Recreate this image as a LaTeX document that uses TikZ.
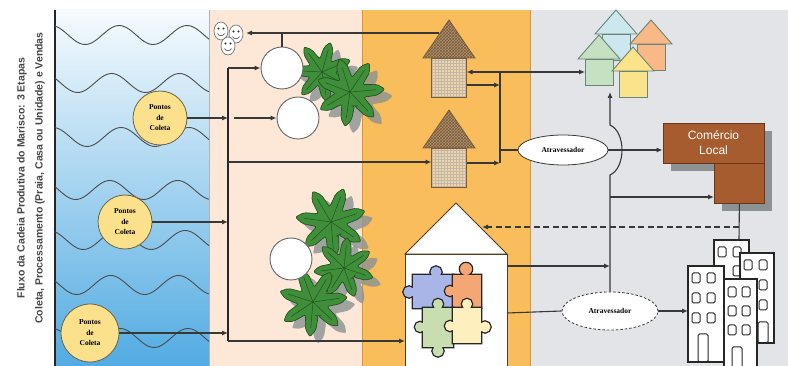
\documentclass[tikz,border=0pt]{standalone}
\usepackage{fontspec}
\setmainfont{Liberation Serif}
\setsansfont{Liberation Sans}
\usetikzlibrary{arrows.meta,shapes.geometric,patterns}

\definecolor{agua}{HTML}{52ABE2}
\definecolor{pessego}{HTML}{FDE8D8}
\definecolor{areia}{HTML}{FABD5B}
\definecolor{areiaborda}{HTML}{D9982F}
\definecolor{nevoa}{HTML}{E2E4E7}
\definecolor{fio}{HTML}{383838}
\definecolor{pontofill}{HTML}{FBE18C}
\definecolor{pontoborda}{HTML}{6B6248}
\definecolor{folha}{HTML}{3F8F3A}
\definecolor{folhaborda}{HTML}{24521F}
\definecolor{palhateto}{HTML}{B2936F}
\definecolor{palhaparede}{HTML}{EED5AC}
\definecolor{palhafio}{HTML}{7A5C3C}
\definecolor{tijolo}{HTML}{A65C2E}
\definecolor{tijoloborda}{HTML}{6B3618}
\definecolor{sombra}{HTML}{8C9294}
\definecolor{casaazul}{HTML}{CDE7EE}
\definecolor{casalaranja}{HTML}{F8B888}
\definecolor{casaverde}{HTML}{C6E0C2}
\definecolor{casaamarela}{HTML}{FBE38C}
\definecolor{casaborda}{HTML}{6A8576}
\definecolor{pecaazul}{HTML}{A9B5E6}
\definecolor{pecalaranja}{HTML}{F4A674}
\definecolor{pecaverde}{HTML}{C9DEB0}
\definecolor{pecaamarela}{HTML}{FDF0BE}

% palm crown of seven broad leaves: x, y, radius, turn, style
\newcommand{\palmstar}[5]{%
  \path[#5, shift={(#1,#2)}, rotate=#4, rounded corners=2pt]
    (64.3:0.42*#3) \foreach \k in {1,...,7}
      {-- (79+\k*51.43-51.43:0.8*#3) -- (90+\k*51.43-51.43:#3) -- (101+\k*51.43-51.43:0.8*#3) -- (64.3+\k*51.43:0.42*#3)} -- cycle;
}
% little face: x, y
\newcommand{\drawface}[2]{%
  \filldraw[fill=white, draw=black!55, line width=0.7pt] (#1,#2) ellipse (7 and 9);
  \fill[black!80] (#1-2.5,#2-2.5) circle (1.1) (#1+2.5,#2-2.5) circle (1.1);
  \draw[black!70, line width=0.6pt] (#1-3.5,#2+2.5) .. controls (#1-2,#2+5.5) and (#1+2,#2+5.5) .. (#1+3.5,#2+2.5);
}
% thatched hut: x of the apex, y of the apex
\newcommand{\drawhut}[2]{%
  \path[fill=palhaparede, postaction={pattern=grid, pattern color=palhafio!45},
        postaction={draw=palhafio, line width=0.8pt}]
    (#1-17.5,#2+38) rectangle (#1+17.5,#2+77);
  \path[fill=palhateto, postaction={pattern=crosshatch, pattern color=palhafio},
        postaction={draw=palhafio, line width=0.8pt}]
    (#1,#2) -- (#1-26,#2+38) -- (#1+26,#2+38) -- cycle;
}
% coloured house: x of the apex, y of the apex, colour
\newcommand{\drawcasa}[3]{%
  \filldraw[casaedge, fill=#3] (#1-14,#2+24) rectangle (#1+14,#2+50);
  \filldraw[casaedge, fill=#3] (#1,#2) -- (#1-21,#2+24) -- (#1+21,#2+24) -- cycle;
}
% puzzle piece: colour, body, knobs
\newcommand{\drawpeca}[3]{%
  \draw[peca] #2 #3;
  \fill[#1] #2;
  \fill[#1] #3;
}
\newcommand{\drawjanela}[2]{\draw[janela] (#1,#2) rectangle ++(8,10);}

\begin{document}
\begin{tikzpicture}[
    x=1pt, y=-1pt,
    wire/.style={draw=fio, line width=1.1pt},
    conn/.style={wire, -{Latex[length=6pt,width=5pt]}},
    barra/.style={draw=black!85, line width=2.2pt},
    wave/.style={draw=black!70, line width=0.9pt},
    ponto/.style={circle, draw=pontoborda, fill=pontofill, line width=0.8pt,
        minimum size=54pt, inner sep=0pt, align=center,
        font=\bfseries\fontsize{7.5}{10.5}\selectfont},
    bolha/.style={circle, draw=black!60, fill=white, line width=0.9pt,
        minimum size=42pt, inner sep=0pt},
    atravessador/.style={ellipse, draw=fio, fill=white, line width=0.8pt,
        minimum width=90pt, minimum height=30pt, inner sep=0pt,
        font=\bfseries\fontsize{7.5}{8}\selectfont},
    lojabox/.style={rectangle, draw=tijoloborda, fill=tijolo, line width=0.8pt, inner sep=0pt},
    palm/.style={fill=folha, draw=folhaborda, line width=0.7pt},
    palmshadow/.style={fill=sombra, opacity=0.8},
    casaedge/.style={draw=casaborda, line width=0.9pt},
    predio/.style={draw=black!85, fill=white, line width=1.1pt},
    janela/.style={draw=black!85, line width=1pt, rounded corners=1.5pt},
    peca/.style={draw=black!85, line width=2.6pt},
]
    \useasboundingbox (0,0) rectangle (788,366);

    % ---------- column backgrounds ----------
    \fill[white] (0,0) rectangle (788,366);
    \shade[top color=agua!5, bottom color=agua] (55,10) rectangle (209,366);
    \fill[pessego] (209,10) rectangle (362,366);
    \fill[areia] (362,10) rectangle (531,366);
    \fill[nevoa] (531,10) rectangle (788,366);
    \draw[areiaborda, line width=1pt] (362.5,10) -- (362.5,366) (530.5,10) -- (530.5,366);
    \draw[black!30, line width=0.6pt] (209,10) -- (209,366);
    \draw[black!85, line width=1.2pt] (55,10) -- (55,366);

    % sea waves
    \foreach \yc/\ph in {35/200, 83/240, 137/190, 190/250, 240/210, 285/245, 338/195}
        \draw[wave] plot[domain=55:209, samples=70, smooth] (\x, {\yc + 9.5*cos(5.3*(\x-55) + \ph)});

    % title
    \node[rotate=90, align=center, text=black!72,
          font=\sffamily\bfseries\fontsize{10.5}{18}\selectfont] (titulo) at (31,178)
        {Fluxo da Cadeia Produtiva do Marisco: 3 Etapas\\Coleta, Processamento (Praia, Casa ou Unidade) e Vendas};

    % ---------- COLETA ----------
    \node[ponto] (p1) at (160,118) {Pontos\\de\\Coleta};
    \node[ponto] (p2) at (125,222) {Pontos\\de\\Coleta};
    \node[ponto, minimum size=58pt] (p3) at (90,333) {Pontos\\de\\Coleta};

    % ---------- PRAIA ----------
    \foreach \px/\py/\pr/\pa in {322/72/31/10, 350/92/35/-8, 331/222/36/5, 344/268/31/20, 313/302/35/-5}
        \palmstar{\px+8}{\py+7}{\pr}{\pa}{palmshadow};
    \foreach \px/\py/\pr/\pa in {322/72/31/10, 350/92/35/-8, 331/222/36/5, 344/268/31/20, 313/302/35/-5} {
        \palmstar{\px}{\py}{\pr}{\pa}{palm}
        \foreach \k in {0,...,6}
            \draw[folhaborda, line width=0.5pt, shift={(\px,\py)}, rotate=\pa] (0,0) -- (90+\k*51.43:0.75*\pr);
    }

    \node[bolha] (b1) at (282,68) {};
    \node[bolha] (b2) at (298,118) {};
    \node[bolha] (b3) at (291,259) {};

    \drawface{221}{31}
    \drawface{236}{34}
    \drawface{228}{46}

    % ---------- CASA ----------
    \drawhut{449}{20}
    \drawhut{449}{110}

    % processing unit with the puzzle
    \filldraw[draw=black!55!brown, fill=white, line width=0.9pt] (405,254) rectangle (507,372);
    \filldraw[draw=black!55!brown, fill=white, line width=0.9pt] (456,203) -- (405,254) -- (507,254) -- cycle;
    \drawpeca{pecaazul}{(413,275) rectangle (453,308)}{(409,292) circle (5.5) (436,272) circle (5.5)}
    \drawpeca{pecalaranja}{(453,275) rectangle (481,308)}{(466,269) circle (6) (450,291) circle (5)}
    \drawpeca{pecaverde}{(423,308) rectangle (453,347)}{(420,327) circle (5) (438,351) circle (5.5) (438,304) circle (5)}
    \drawpeca{pecaamarela}{(453,308) rectangle (481,343)}{(485,327) circle (5.5) (467,304) circle (5) (450,326) circle (5)}

    % ---------- VENDAS ----------
    \drawcasa{616}{10}{casaazul}
    \drawcasa{651}{20}{casalaranja}
    \drawcasa{599}{35}{casaverde}
    \drawcasa{633}{47}{casaamarela}

    \fill[sombra] (671,131) rectangle (772,171);
    \fill[sombra] (722,171) rectangle (772,211);
    \node[lojabox, minimum width=50pt, minimum height=40pt, anchor=north west] (lojab) at (714,163) {};
    \node[lojabox, minimum width=101pt, minimum height=40pt, align=center, text=white,
          font=\sffamily\fontsize{12}{15}\selectfont] (loja) at (713.5,143) {Comércio\\Local};

    \node[atravessador] (atr1) at (563,150) {Atravessador};
    \node[atravessador, dash pattern=on 2.5pt off 2pt, minimum width=96pt, minimum height=38pt]
        (atr2) at (610,311) {Atravessador};

    % ---------- connector anchors ----------
    \coordinate (barra) at (228,0);
    \coordinate (barra2) at (234,0);
    \coordinate (barTop) at (228,68);
    \coordinate (barBot) at (228,341);
    \coordinate (rostos) at (246,33);
    \coordinate (teto1) at (439,33);
    \coordinate (cab1in) at (466.5,72);
    \coordinate (cab1out) at (466.5,85);
    \coordinate (cab2out) at (466.5,163);
    \coordinate (cab2in) at (431.5,162);
    \coordinate (junc) at (500,72);
    \coordinate (juncA) at (500,85);
    \coordinate (juncB) at (500,163);
    \coordinate (juncC) at (500,150);
    \coordinate (vila) at (585,72);
    \coordinate (vilaBase) at (610,92);
    \coordinate (casaL) at (405,341);
    \coordinate (casaR1) at (507,266);
    \coordinate (casaR2) at (507,313);
    \coordinate (telhado) at (482,227);
    \coordinate (rota1) at (610,266);
    \coordinate (rota2) at (610,197);
    \coordinate (predioTopo) at (739,240);
    \coordinate (predios) at (688,311);

    % coleta -> praia
    \foreach \pnome in {p1,p2,p3}
        \draw[conn] (\pnome.east) -- (\pnome.east -| barra);
    \draw[barra] (barTop) -- (barBot);
    \draw[conn] (barTop) -- (b1.west);
    \draw[conn] (barra2 |- b2) -- (b2.west);
    \draw[conn] (barra |- cab2in) -- (cab2in);
    \draw[conn] (barBot) -- (casaL);

    % praia -> casa
    \draw[conn] (teto1) -- (rostos);
    \draw[wire] (b1.north) -- (b1.north |- rostos);
    \draw[conn] (junc) -- (cab1in);
    \draw[conn] (junc) -- (vila);
    \draw[conn] (cab1out) -- (juncA);
    \draw[conn] (cab2out) -- (juncB);
    \draw[wire] (junc) -- (juncB);
    \draw[wire] (juncC) -- (atr1.west);

    % casa -> vendas
    \draw[conn] (atr1.east) -- (atr1.east -| loja.west);
    \draw[conn] (atr2.north) -- (610,175) .. controls (626,168) and (626,132) .. (610,125) -- (vilaBase);
    \draw[conn] (rota2) -- (rota2 -| lojab.west);
    \draw[conn] (casaR1) -- (rota1);
    \draw[wire] (lojab.south) -- (predioTopo);
    \draw[conn, dash pattern=on 6pt off 3.5pt] (lojab.south |- telhado) -- (telhado);
    \draw[wire] (casaR2) -- (atr2.west);
    \draw[conn] (atr2.east) -- (predios);

    % office blocks
    \draw[predio] (714,240) rectangle (749,300);
    \drawjanela{718}{247} \drawjanela{733}{247} \drawjanela{733}{266}
    \draw[predio] (740,253) rectangle (774,343);
    \drawjanela{744}{260} \drawjanela{759}{260} \drawjanela{759}{280} \drawjanela{759}{300}
    \draw[janela] (758,322) rectangle (768,343);
    \draw[predio] (688,266) rectangle (724,362);
    \foreach \wy in {273,293,313} { \drawjanela{692}{\wy} \drawjanela{707}{\wy} }
    \draw[janela] (698,334) rectangle (708,362);
    \draw[predio] (724,279) rectangle (757,372);
    \foreach \wy in {287,306,325} { \drawjanela{728}{\wy} \drawjanela{742}{\wy} }
    \draw[janela] (732,347) rectangle (742,372);
\end{tikzpicture}
\end{document}
